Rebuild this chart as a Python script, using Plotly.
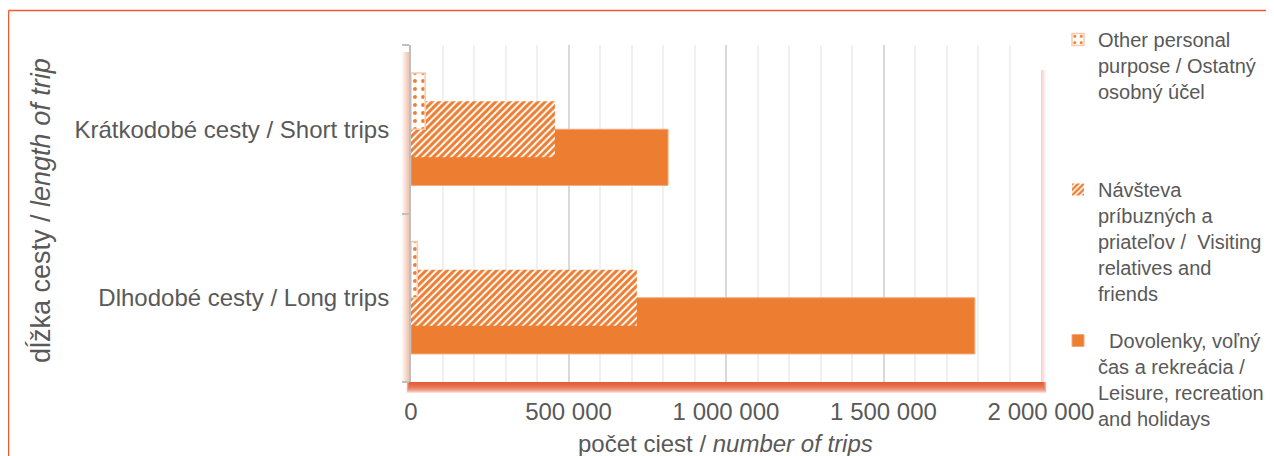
import plotly.graph_objects as go

# ---------------- data ----------------
categories = ["Dlhodobé cesty / Long trips", "Krátkodobé cesty / Short trips"]
leisure = [1790000, 816000]
visiting = [717000, 457000]
other = [20000, 45000]

name_leisure = "\u00a0\u00a0Dovolenky, voľný<br>čas a rekreácia /<br>Leisure, recreation<br>and holidays"
name_visiting = "Návšteva<br>príbuzných a<br>priateľov /\u00a0 Visiting<br>relatives and<br>friends"
name_other = "Other personal<br>purpose / Ostatný<br>osobný účel"

x_tickvals = [0, 500000, 1000000, 1500000, 2000000]

# ---------------- geometry helpers (screen pixels) ----------------
OFF = 8  # page body margin
W, H = 1274, 456
PLOT_L, PLOT_R, PLOT_T, PLOT_B = 411, 1041, 45, 382  # target screen positions
L = PLOT_L - OFF
T = PLOT_T - OFF
PW = PLOT_R - PLOT_L
PH = PLOT_B - PLOT_T
R = W - L - PW
B = H - T - PH


def xp(px):
    return (px - PLOT_L) / PW


def yp(py):
    return (PLOT_B - py) / PH


ORANGE = "#ED7D31"
GRAY_TXT = "#595959"
FONT = "Liberation Sans, Arial, sans-serif"

fig = go.Figure()

fig.add_trace(go.Bar(
    y=categories, x=leisure, orientation="h", name=name_leisure,
    width=1/3, offset=-1/3,
    marker=dict(color=ORANGE, line=dict(color="#F4A878", width=1)),
    legend="legend3",
))
fig.add_trace(go.Bar(
    y=categories, x=visiting, orientation="h", name=name_visiting,
    width=1/3, offset=-1/6,
    marker=dict(color="white", line=dict(width=0),
                pattern=dict(shape="/", fgcolor=ORANGE, bgcolor="white",
                             fgopacity=1, size=5, solidity=0.6)),
    legend="legend2",
))
fig.add_trace(go.Bar(
    y=categories, x=other, orientation="h", name=name_other,
    width=1/3, offset=0,
    marker=dict(color="white", line=dict(color="#F8CBAD", width=1.5),
                pattern=dict(shape=".", fgcolor=ORANGE, bgcolor="white",
                             fgopacity=1, size=8, solidity=0.18)),
    legend="legend",
))

shapes = []
SH = "#E0522A"
# bottom shadow band
for k in range(1, 12):
    shapes.append(dict(type="rect", xref="paper", yref="paper",
                       x0=xp(410 - 0.3 * k), x1=xp(1042 + 0.4 * k),
                       y0=yp(382 + 1.0 * k), y1=yp(382),
                       fillcolor=SH, opacity=0.2, line=dict(width=0), layer="below"))
# left glow
for k in range(1, 10):
    shapes.append(dict(type="rect", xref="paper", yref="paper",
                       x0=xp(411 - 1.0 * k), x1=xp(411),
                       y0=yp(382), y1=yp(52),
                       fillcolor=SH, opacity=0.055, line=dict(width=0), layer="below"))
# right glow
for k in range(1, 6):
    shapes.append(dict(type="rect", xref="paper", yref="paper",
                       x0=xp(1041), x1=xp(1041 + 1.0 * k),
                       y0=yp(382), y1=yp(70),
                       fillcolor=SH, opacity=0.05, line=dict(width=0), layer="below"))
# outer chart border (left and top edges visible)
BORDER = "#EE5A2B"
shapes.append(dict(type="line", xref="paper", yref="paper",
                   x0=xp(8.5), x1=xp(8.5), y0=yp(10.5), y1=yp(480),
                   line=dict(color=BORDER, width=1.5), layer="above"))
shapes.append(dict(type="line", xref="paper", yref="paper",
                   x0=xp(8.5), x1=xp(1290), y0=yp(10.5), y1=yp(10.5),
                   line=dict(color=BORDER, width=1.5), layer="above"))

legend_common = dict(
    xanchor="left", yanchor="top", valign="top",
    bgcolor="rgba(0,0,0,0)", borderwidth=0,
    font=dict(family=FONT, size=20, color=GRAY_TXT),
)

fig.update_layout(
    width=W, height=H, autosize=False,
    margin=dict(l=L, r=R, t=T, b=B, pad=0),
    paper_bgcolor="white", plot_bgcolor="white",
    barmode="overlay",
    separators=", ",
    font=dict(family=FONT, color=GRAY_TXT, size=24),
    showlegend=True,
    legend=dict(x=xp(1058), y=yp(20), **legend_common),
    legend2=dict(x=xp(1058), y=yp(170), **legend_common),
    legend3=dict(x=xp(1058), y=yp(321), **legend_common),
    xaxis=dict(
        range=[0, 2000000], tickvals=x_tickvals, tickformat=",d",
        showgrid=True, gridcolor="#D9D9D9", gridwidth=2,
        minor=dict(dtick=100000, showgrid=True, gridcolor="#F0F0F0", gridwidth=2),
        zeroline=False, showline=False, ticks="",
        ticklabelstandoff=13,
        tickfont=dict(family=FONT, size=24, color=GRAY_TXT),
        fixedrange=True,
    ),
    yaxis=dict(
        type="category", categoryorder="array", categoryarray=categories,
        range=[-0.5, 1.5],
        showline=True, linecolor="#BFBFBF", linewidth=2,
        ticks="outside", tickson="boundaries", ticklen=7,
        tickcolor="#BFBFBF", tickwidth=2,
        showgrid=False, zeroline=False,
        ticklabelstandoff=15,
        tickfont=dict(family=FONT, size=24, color=GRAY_TXT),
        fixedrange=True,
    ),
    shapes=shapes,
    annotations=[
        dict(text="dĺžka cesty / <i>length of trip</i>", xref="paper", yref="paper",
             x=xp(40), y=yp(211), xanchor="center", yanchor="middle",
             textangle=-90, showarrow=False,
             font=dict(family=FONT, size=27, color=GRAY_TXT)),
        dict(text="počet ciest / <i>number of trips</i>", xref="paper", yref="paper",
             x=xp(725), y=yp(443), xanchor="center", yanchor="middle",
             showarrow=False,
             font=dict(family=FONT, size=24, color=GRAY_TXT)),
    ],
)

fig.write_html("out.html")
